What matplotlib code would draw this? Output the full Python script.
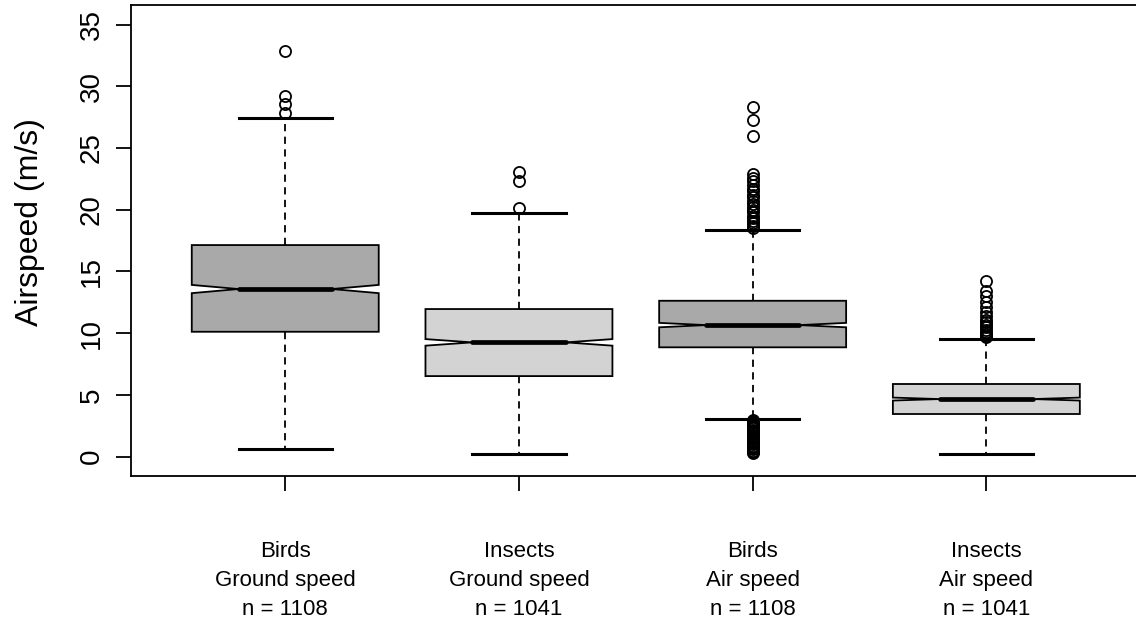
import numpy as np
import matplotlib
matplotlib.use("Agg")
import matplotlib.pyplot as plt

plt.rcParams['font.family'] = ['Liberation Sans', 'DejaVu Sans']

# Group labels and sample sizes
groups = ["Birds\nGround speed", "Insects\nGround speed", "Birds\nAir speed", "Insects\nAir speed"]
n_obs = [1108, 1041, 1108, 1041]

# Five-number summaries (m/s)
whisker_low = [0.62, 0.20, 3.05, 0.19]
quartile_1 = [10.12, 6.53, 8.86, 3.46]
medians = [13.58, 9.26, 10.66, 4.67]
quartile_3 = [17.14, 11.96, 12.63, 5.89]
whisker_high = [27.40, 19.70, 18.36, 9.53]

# Points beyond the whiskers
outliers_birds_ground = [32.85, 29.2, 28.56, 27.86]
outliers_insects_ground = [23.03, 22.35, 20.11]
outliers_birds_air = [28.3, 27.3, 26.0, 22.9, 22.6, 22.3, 22.0, 21.7, 21.5, 21.2,
                      21.0, 20.7, 20.5, 20.2, 20.0, 19.8, 19.5, 19.3, 19.1, 18.9,
                      18.7, 18.5, 3.0, 2.9, 2.8, 2.7, 2.6, 2.5, 2.4, 2.3, 2.2, 2.1,
                      2.0, 1.9, 1.8, 1.7, 1.6, 1.5, 1.4, 1.3, 1.2, 1.1, 1.0, 0.9,
                      0.8, 0.7, 0.6, 0.5, 0.4, 0.3]
outliers_insects_air = [14.2, 13.4, 13.0, 12.55, 12.1, 11.7, 11.4, 11.1, 10.9, 10.7,
                        10.5, 10.3, 10.1, 9.95, 9.8, 9.7]
outliers = [outliers_birds_ground, outliers_insects_ground,
            outliers_birds_air, outliers_insects_air]

box_colors = ['#A9A9A9', '#D3D3D3', '#A9A9A9', '#D3D3D3']

stats = []
for i in range(len(groups)):
    iqr = quartile_3[i] - quartile_1[i]
    half_notch = 1.58 * iqr / np.sqrt(n_obs[i])
    stats.append(dict(
        label=f"{groups[i]}\nn = {n_obs[i]}",
        whislo=whisker_low[i], q1=quartile_1[i], med=medians[i],
        q3=quartile_3[i], whishi=whisker_high[i],
        cilo=medians[i] - half_notch, cihi=medians[i] + half_notch,
        fliers=np.array(outliers[i]),
    ))

fig = plt.figure(figsize=(11.36, 6.23), dpi=100)
ax = fig.add_axes([131 / 1136, 1 - 476 / 623, (1140.6 - 131) / 1136, (476 - 5) / 623])

bp = ax.bxp(
    stats, positions=[1, 2, 3, 4], widths=0.8, capwidths=0.4,
    shownotches=True, patch_artist=True,
    boxprops=dict(linewidth=1.3, edgecolor='black'),
    medianprops=dict(color='black', linewidth=3.4, solid_capstyle='round'),
    whiskerprops=dict(color='black', linewidth=1.3, linestyle=(0, (4, 3))),
    capprops=dict(color='black', linewidth=2.2),
    flierprops=dict(marker='o', markerfacecolor='none', markeredgecolor='black',
                    markersize=8, markeredgewidth=1.3, linestyle='none'),
)
for patch, c in zip(bp['boxes'], box_colors):
    patch.set_facecolor(c)

ax.set_xlim(0.34, 4.66)
ax.set_ylim(-1.56, 36.58)
ax.set_yticks([0, 5, 10, 15, 20, 25, 30, 35])

for s in ax.spines.values():
    s.set_linewidth(1.3)

ax.tick_params(axis='both', length=11, width=1.3, direction='out')
ax.tick_params(axis='x', labelsize=16, pad=36)
ax.tick_params(axis='y', labelsize=20, labelrotation=90, pad=8)
for lbl in ax.get_yticklabels():
    lbl.set_va('center')
for lbl in ax.get_xticklabels():
    lbl.set_linespacing(1.5)

ax.set_ylabel("Airspeed (m/s)", fontsize=23)
ax.yaxis.set_label_coords(-0.085, 0.539)

fig.savefig("out.png", dpi=100)
